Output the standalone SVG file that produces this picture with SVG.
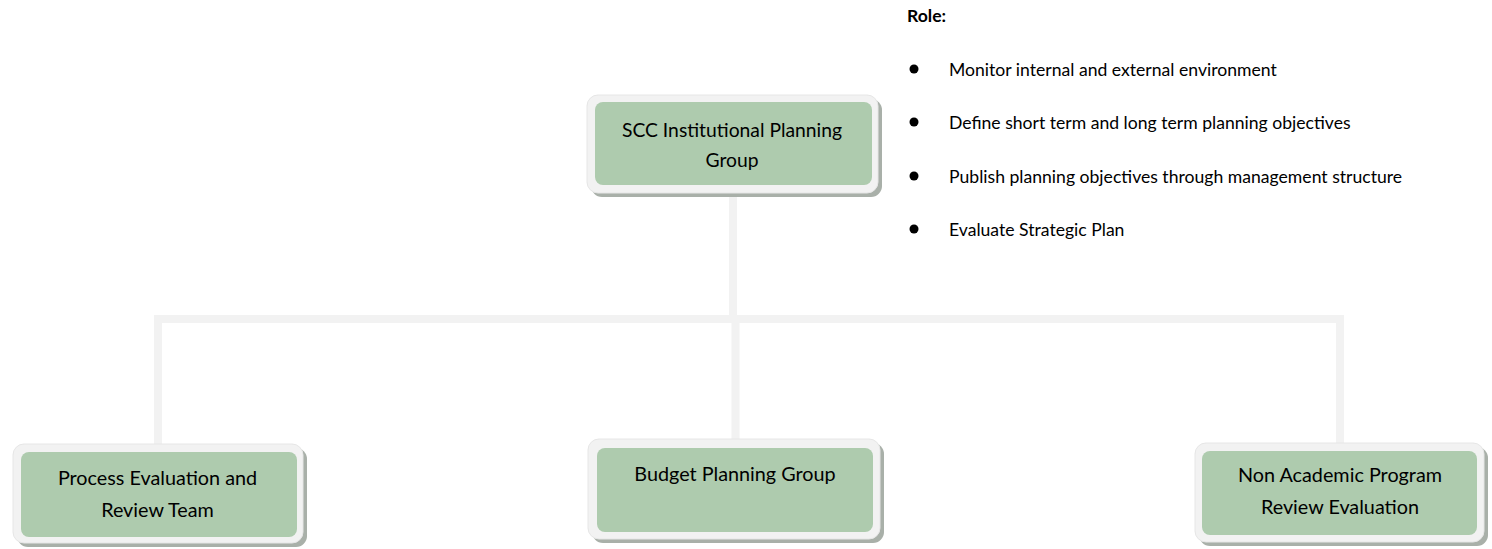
<svg xmlns="http://www.w3.org/2000/svg" width="1492" height="549" viewBox="0 0 1492 549">
<style>
.shadow{fill:#a9b0a9}
.rim{fill:#f2f2f2;stroke:#e6e6e6;stroke-width:1}
.core{fill:#aecbae}
.lbl{font-family:Lato,"Open Sans",sans-serif;font-size:19.8px;fill:#000;text-anchor:middle}
.lbl.t{font-size:19.3px}
.role{font-family:Lato,"Open Sans",sans-serif;font-size:17.6px;fill:#000}
.roleh{font-family:Lato,"Open Sans",sans-serif;font-size:17.6px;font-weight:bold;fill:#000}
.conn{stroke:#f2f2f2;stroke-width:8;fill:none}
</style>
<rect width="1492" height="549" fill="#fff"/>
<g id="connectors">
<line class="conn" x1="733" y1="190" x2="733" y2="319"/>
<line class="conn" x1="154" y1="319" x2="1344" y2="319"/>
<line class="conn" x1="158" y1="315" x2="158" y2="446"/>
<line class="conn" x1="735.5" y1="319" x2="735.5" y2="441"/>
<line class="conn" x1="1340" y1="315" x2="1340" y2="445"/>
</g>
<g id="node-top">
<rect class="shadow" x="591" y="99" width="291" height="98" rx="11"/>
<rect class="rim" x="587" y="95" width="291" height="98" rx="11"/>
<rect class="core" x="595" y="102" width="277" height="83" rx="8"/>
<text class="lbl t" x="732" y="137">SCC Institutional Planning</text>
<text class="lbl t" x="732" y="167">Group</text>
</g>
<g id="node-process">
<rect class="shadow" x="17" y="448" width="290" height="99" rx="11"/>
<rect class="rim" x="13" y="444" width="290" height="99" rx="11"/>
<rect class="core" x="21" y="452" width="276" height="85" rx="8"/>
<text class="lbl" x="157.5" y="485">Process Evaluation and</text>
<text class="lbl" x="157.5" y="517">Review Team</text>
</g>
<g id="node-budget">
<rect class="shadow" x="592" y="443" width="292" height="100" rx="11"/>
<rect class="rim" x="588" y="439" width="292" height="100" rx="11"/>
<rect class="core" x="597" y="448" width="276" height="84" rx="8"/>
<text class="lbl" x="735" y="481">Budget Planning Group</text>
</g>
<g id="node-nonacademic">
<rect class="shadow" x="1199" y="447" width="289" height="99" rx="11"/>
<rect class="rim" x="1195" y="443" width="289" height="99" rx="11"/>
<rect class="core" x="1202" y="451" width="275" height="84" rx="8"/>
<text class="lbl" x="1340" y="482">Non Academic Program</text>
<text class="lbl" x="1340" y="514">Review Evaluation</text>
</g>
<g id="role">
<text class="roleh" x="907" y="22">Role:</text>
<circle cx="914" cy="69" r="4.5"/>
<text class="role" x="949" y="76">Monitor internal and external environment</text>
<circle cx="914" cy="122" r="4.5"/>
<text class="role" x="949" y="129">Define short term and long term planning objectives</text>
<circle cx="914" cy="176" r="4.5"/>
<text class="role" x="949" y="183">Publish planning objectives through management structure</text>
<circle cx="914" cy="229" r="4.5"/>
<text class="role" x="949" y="236">Evaluate Strategic Plan</text>
</g>
</svg>
